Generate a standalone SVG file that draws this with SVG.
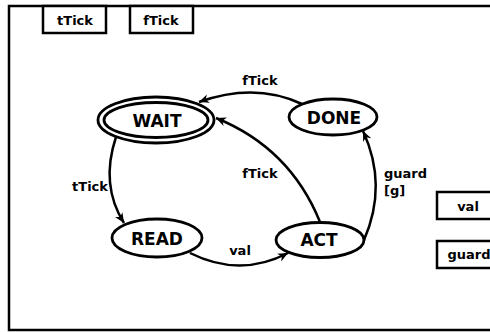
<svg xmlns="http://www.w3.org/2000/svg" width="490" height="332" viewBox="0 0 490 332">
<style>
.frame{fill:none;stroke:#000;stroke-width:2.5}
.box{fill:#fff;stroke:#000;stroke-width:2.5}
.node{fill:#fff;stroke:#000;stroke-width:2.8}
.edge{fill:none;stroke:#000;stroke-width:2.5}
.nl{font-family:"DejaVu Sans",sans-serif;font-weight:bold;font-size:17px;text-anchor:middle;fill:#000}
.el{font-family:"DejaVu Sans",sans-serif;font-weight:bold;font-size:13px;fill:#000}
.bl{font-family:"DejaVu Sans",sans-serif;font-weight:bold;font-size:13px;text-anchor:middle;fill:#000}
</style>
<defs>
<marker id="arr" markerUnits="userSpaceOnUse" markerWidth="11" markerHeight="10" refX="10" refY="4.5" orient="auto" viewBox="0 0 11 9">
<path d="M0,0 L10,4.5 L0,9 L3,4.5 z" fill="#000"/>
</marker>
</defs>
<rect width="490" height="332" fill="#fff"/>
<rect class="frame" x="9" y="6" width="500" height="324"/>
<g id="box-tTick"><rect class="box" x="43" y="6" width="63" height="27"/><text class="bl" x="75" y="25">tTick</text></g>
<g id="box-fTick"><rect class="box" x="130" y="6" width="63" height="27"/><text class="bl" x="161" y="25">fTick</text></g>
<g id="box-val"><rect class="box" x="437" y="192" width="64" height="27"/><text class="bl" x="468" y="211">val</text></g>
<g id="box-guard"><rect class="box" x="437" y="241" width="64" height="27"/><text class="bl" x="469" y="259">guard</text></g>
<g id="connectors">
<path class="edge" d="M302,104 Q255,82 199,102" marker-end="url(#arr)"/>
<text class="el" x="260" y="85" text-anchor="middle">fTick</text>
<path class="edge" d="M320,222 Q290,148 216,118" marker-end="url(#arr)"/>
<text class="el" x="260" y="178" text-anchor="middle">fTick</text>
<path class="edge" d="M116,137 Q100,185 124,223" marker-end="url(#arr)"/>
<text class="el" x="90" y="191" text-anchor="middle">tTick</text>
<path class="edge" d="M190,253 Q240,278 288,253" marker-end="url(#arr)"/>
<text class="el" x="240" y="255" text-anchor="middle">val</text>
<path class="edge" d="M364,240 Q388,185 363,131" marker-end="url(#arr)"/>
<text class="el" x="384" y="178">guard</text>
<text class="el" x="384" y="195">[g]</text>
</g>
<g id="node-WAIT"><ellipse class="node" cx="156" cy="120" rx="58" ry="23"/><ellipse class="node" cx="156" cy="120" rx="52" ry="17.5"/><text class="nl" x="157" y="127">WAIT</text></g>
<g id="node-DONE"><ellipse class="node" cx="333" cy="117" rx="44" ry="18"/><text class="nl" x="334" y="124">DONE</text></g>
<g id="node-READ"><ellipse class="node" cx="157" cy="238" rx="45" ry="19"/><text class="nl" x="157" y="245">READ</text></g>
<g id="node-ACT"><ellipse class="node" cx="320" cy="240" rx="44" ry="17.5"/><text class="nl" x="319" y="246">ACT</text></g>
</svg>
